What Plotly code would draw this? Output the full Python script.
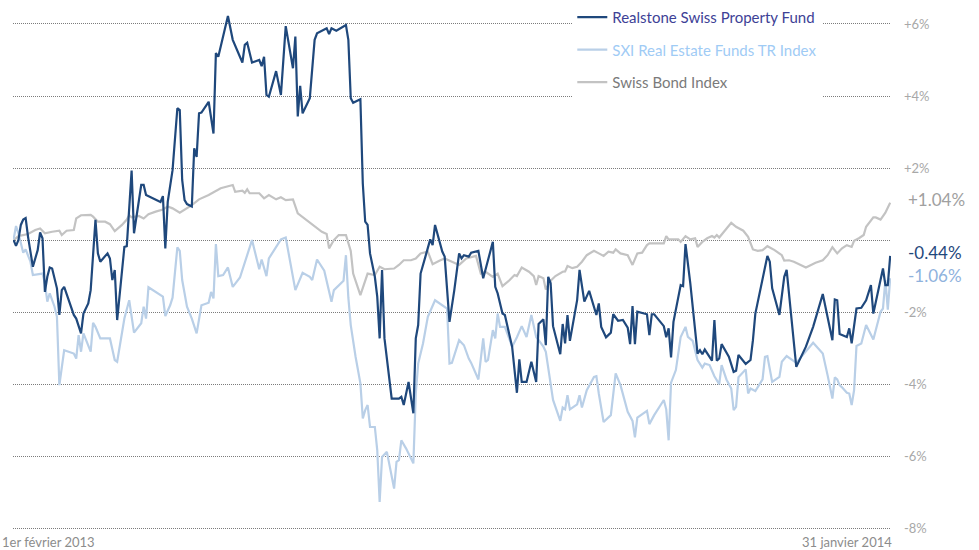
import plotly.graph_objects as go

# ---- data: cumulative performance in % ----
rsp = [("2013-02-01",0.00),("2013-02-02",-0.16),("2013-02-03",0.00),("2013-02-04",0.42),("2013-02-05",0.57),("2013-02-06",0.61),("2013-02-07",0.09),("2013-02-09",-0.74),("2013-02-11",-0.28),("2013-02-12",0.21),("2013-02-13",0.05),("2013-02-14",-1.44),("2013-02-15",-1.02),("2013-02-16",-0.76),("2013-02-17",-0.79),("2013-02-18",-1.11),("2013-02-19",-1.34),("2013-02-20",-2.08),("2013-02-21",-1.39),("2013-02-22",-1.30),("2013-02-24",-1.67),("2013-02-26",-2.08),("2013-02-27",-2.18),("2013-03-01",-2.59),("2013-03-02",-2.04),("2013-03-04",-1.76),("2013-03-05",-1.39),("2013-03-06",-0.28),("2013-03-07",0.56),("2013-03-08",-0.37),("2013-03-09",-0.60),("2013-03-12",-0.37),("2013-03-13",-0.51),("2013-03-14",-1.11),("2013-03-15",-0.83),("2013-03-16",-2.22),("2013-03-17",-1.48),("2013-03-19",-0.19),("2013-03-20",-0.17),("2013-03-22",1.93),("2013-03-23",0.19),("2013-03-25",1.16),("2013-03-26",1.53),("2013-03-27",1.53),("2013-03-28",1.25),("2013-04-03",1.06),("2013-04-04",1.22),("2013-04-05",-0.23),("2013-04-06",1.06),("2013-04-08",1.94),("2013-04-10",3.66),("2013-04-11",3.61),("2013-04-12",1.67),("2013-04-13",1.11),("2013-04-14",1.00),("2013-04-16",0.93),("2013-04-17",2.55),("2013-04-18",2.31),("2013-04-19",3.52),("2013-04-20",3.54),("2013-04-23",3.84),("2013-04-25",2.96),("2013-04-26",5.19),("2013-04-27",5.09),("2013-05-01",6.22),("2013-05-03",5.56),("2013-05-07",4.93),("2013-05-08",5.42),("2013-05-09",5.48),("2013-05-11",4.93),("2013-05-14",5.00),("2013-05-15",4.83),("2013-05-16",5.09),("2013-05-17",4.03),("2013-05-18",3.98),("2013-05-21",4.69),("2013-05-23",4.03),("2013-05-25",5.94),("2013-05-28",4.77),("2013-05-29",5.65),("2013-05-30",3.43),("2013-05-31",4.28),("2013-06-01",3.52),("2013-06-04",3.94),("2013-06-06",5.56),("2013-06-07",5.74),("2013-06-11",5.88),("2013-06-12",5.72),("2013-06-13",5.88),("2013-06-15",5.81),("2013-06-19",5.97),("2013-06-20",5.56),("2013-06-21",3.94),("2013-06-22",3.81),("2013-06-25",3.91),("2013-06-26",1.57),("2013-06-27",0.51),("2013-06-28",0.42),("2013-06-29",-0.37),("2013-07-01",-1.02),("2013-07-02",-1.57),("2013-07-03",-2.73),("2013-07-04",-0.83),("2013-07-05",-2.73),("2013-07-08",-4.40),("2013-07-11",-4.40),("2013-07-12",-4.35),("2013-07-13",-4.58),("2013-07-15",-3.94),("2013-07-17",-4.81),("2013-07-18",-2.73),("2013-07-19",-2.36),("2013-07-20",-0.93),("2013-07-22",-0.46),("2013-07-24",0.02),("2013-07-25",-0.14),("2013-07-26",0.42),("2013-07-29",-0.32),("2013-07-30",-0.46),("2013-08-01",-2.27),("2013-08-03",-1.39),("2013-08-05",-0.37),("2013-08-06",-0.51),("2013-08-07",-0.42),("2013-08-09",-0.46),("2013-08-10",-0.35),("2013-08-13",-0.30),("2013-08-15",-1.06),("2013-08-19",-0.05),("2013-08-20",-1.30),("2013-08-21",-1.48),("2013-08-23",-2.04),("2013-08-24",-2.08),("2013-08-27",-2.96),("2013-08-29",-4.24),("2013-08-30",-3.31),("2013-08-31",-3.94),("2013-09-02",-3.94),("2013-09-04",-3.38),("2013-09-06",-3.94),("2013-09-07",-2.33),("2013-09-09",-2.20),("2013-09-10",-2.92),("2013-09-11",-1.02),("2013-09-12",-1.20),("2013-09-13",-2.39),("2013-09-16",-3.17),("2013-09-17",-2.33),("2013-09-18",-2.87),("2013-09-19",-2.08),("2013-09-20",-2.80),("2013-09-23",-1.67),("2013-09-24",-0.83),("2013-09-26",-1.71),("2013-09-28",-1.41),("2013-10-01",-2.08),("2013-10-02",-1.76),("2013-10-03",-2.41),("2013-10-05",-2.70),("2013-10-07",-2.57),("2013-10-08",-2.06),("2013-10-10",-2.24),("2013-10-12",-2.22),("2013-10-14",-2.43),("2013-10-15",-2.89),("2013-10-16",-1.83),("2013-10-17",-2.89),("2013-10-18",-1.99),("2013-10-22",-2.06),("2013-10-23",-2.64),("2013-10-24",-2.06),("2013-10-25",-2.06),("2013-10-29",-2.39),("2013-10-30",-2.70),("2013-10-31",-2.45),("2013-11-01",-3.26),("2013-11-02",-2.27),("2013-11-05",-1.25),("2013-11-06",-1.28),("2013-11-07",-0.11),("2013-11-09",-1.20),("2013-11-12",-3.15),("2013-11-13",-3.06),("2013-11-14",-3.17),("2013-11-15",-3.04),("2013-11-18",-3.35),("2013-11-19",-2.22),("2013-11-20",-3.35),("2013-11-21",-3.29),("2013-11-22",-2.89),("2013-11-25",-3.24),("2013-11-27",-3.66),("2013-11-28",-3.63),("2013-11-29",-3.19),("2013-12-02",-3.44),("2013-12-04",-3.33),("2013-12-05",-2.78),("2013-12-06",-2.04),("2013-12-09",-1.11),("2013-12-11",-0.44),("2013-12-12",-0.60),("2013-12-13",-1.34),("2013-12-16",-2.08),("2013-12-18",-1.02),("2013-12-19",-0.83),("2013-12-23",-3.52),("2013-12-27",-2.96),("2013-12-30",-2.41),("2014-01-03",-1.50),("2014-01-07",-2.78),("2014-01-08",-1.65),("2014-01-09",-1.67),("2014-01-10",-2.61),("2014-01-13",-2.69),("2014-01-14",-2.45),("2014-01-15",-2.87),("2014-01-17",-1.90),("2014-01-19",-1.88),("2014-01-21",-1.67),("2014-01-23",-1.25),("2014-01-24",-2.04),("2014-01-28",-0.79),("2014-01-29",-1.25),("2014-01-30",-1.25),("2014-01-31",-0.44)]

sxi = [("2013-02-01",0.02),("2013-02-02",0.39),("2013-02-03",0.19),("2013-02-04",-0.05),("2013-02-05",-0.35),("2013-02-06",-0.26),("2013-02-08",-0.60),("2013-02-09",-0.97),("2013-02-13",-0.93),("2013-02-14",-1.20),("2013-02-15",-1.71),("2013-02-16",-1.48),("2013-02-18",-1.85),("2013-02-19",-2.13),("2013-02-20",-4.03),("2013-02-22",-3.06),("2013-02-26",-3.15),("2013-02-27",-3.29),("2013-02-28",-2.64),("2013-03-01",-3.10),("2013-03-02",-2.59),("2013-03-05",-3.10),("2013-03-06",-2.30),("2013-03-07",-2.41),("2013-03-09",-2.73),("2013-03-13",-2.73),("2013-03-15",-3.33),("2013-03-16",-3.38),("2013-03-19",-2.18),("2013-03-21",-1.67),("2013-03-23",-2.57),("2013-03-26",-2.31),("2013-03-27",-1.85),("2013-03-28",-2.18),("2013-03-29",-1.31),("2013-04-04",-1.57),("2013-04-05",-2.11),("2013-04-07",-1.81),("2013-04-08",-1.60),("2013-04-10",-0.20),("2013-04-11",-0.30),("2013-04-12",-1.11),("2013-04-14",-1.85),("2013-04-16",-2.18),("2013-04-18",-2.59),("2013-04-20",-1.81),("2013-04-23",-1.74),("2013-04-24",-1.44),("2013-04-25",-1.62),("2013-04-26",-0.11),("2013-04-27",-1.00),("2013-04-29",-0.97),("2013-05-01",-0.76),("2013-05-03",-1.30),("2013-05-06",-1.04),("2013-05-11",0.00),("2013-05-14",-0.81),("2013-05-15",-0.54),("2013-05-17",-1.00),("2013-05-18",-0.51),("2013-05-21",-0.19),("2013-05-22",-0.09),("2013-05-23",0.02),("2013-05-25",0.07),("2013-05-29",-1.39),("2013-06-01",-0.91),("2013-06-04",-1.02),("2013-06-05",-1.11),("2013-06-07",-0.54),("2013-06-10",-0.85),("2013-06-13",-1.71),("2013-06-14",-1.39),("2013-06-18",-1.13),("2013-06-19",-0.42),("2013-06-20",-1.60),("2013-06-21",-2.36),("2013-06-23",-3.24),("2013-06-25",-3.98),("2013-06-26",-4.95),("2013-06-27",-4.72),("2013-06-28",-4.58),("2013-06-29",-5.19),("2013-07-01",-5.19),("2013-07-02",-5.83),("2013-07-03",-7.27),("2013-07-04",-6.02),("2013-07-06",-5.88),("2013-07-09",-6.90),("2013-07-10",-6.16),("2013-07-11",-6.11),("2013-07-12",-5.56),("2013-07-14",-5.79),("2013-07-17",-6.20),("2013-07-18",-4.26),("2013-07-19",-3.43),("2013-07-21",-2.87),("2013-07-23",-2.13),("2013-07-26",-1.67),("2013-07-31",-1.90),("2013-08-01",-3.43),("2013-08-02",-3.41),("2013-08-05",-2.78),("2013-08-07",-2.92),("2013-08-09",-3.29),("2013-08-10",-3.41),("2013-08-13",-3.87),("2013-08-15",-2.73),("2013-08-16",-3.38),("2013-08-17",-3.33),("2013-08-19",-2.50),("2013-08-20",-2.73),("2013-08-21",-2.04),("2013-08-22",-2.41),("2013-08-24",-2.41),("2013-08-27",-2.96),("2013-08-29",-2.70),("2013-08-31",-2.39),("2013-09-02",-2.69),("2013-09-04",-2.08),("2013-09-06",-2.69),("2013-09-09",-2.96),("2013-09-10",-3.10),("2013-09-13",-4.44),("2013-09-16",-5.02),("2013-09-17",-4.65),("2013-09-18",-4.70),("2013-09-19",-4.31),("2013-09-20",-4.70),("2013-09-23",-4.56),("2013-09-24",-4.31),("2013-09-25",-4.65),("2013-09-27",-4.17),("2013-09-30",-3.80),("2013-10-01",-3.78),("2013-10-02",-4.26),("2013-10-04",-5.05),("2013-10-07",-4.86),("2013-10-09",-3.70),("2013-10-11",-4.03),("2013-10-14",-4.77),("2013-10-16",-5.02),("2013-10-17",-5.48),("2013-10-18",-4.93),("2013-10-22",-4.74),("2013-10-23",-5.11),("2013-10-25",-4.86),("2013-10-29",-4.44),("2013-10-30",-4.70),("2013-10-31",-5.56),("2013-11-01",-3.96),("2013-11-03",-3.61),("2013-11-05",-2.69),("2013-11-07",-2.41),("2013-11-08",-2.69),("2013-11-10",-2.80),("2013-11-12",-3.33),("2013-11-14",-3.54),("2013-11-15",-3.43),("2013-11-17",-3.47),("2013-11-19",-3.78),("2013-11-21",-4.00),("2013-11-22",-3.47),("2013-11-24",-3.87),("2013-11-26",-4.12),("2013-11-27",-4.72),("2013-11-28",-4.63),("2013-11-29",-3.81),("2013-12-02",-3.59),("2013-12-03",-4.26),("2013-12-04",-4.12),("2013-12-06",-4.19),("2013-12-09",-3.87),("2013-12-10",-3.24),("2013-12-11",-3.22),("2013-12-13",-3.94),("2013-12-16",-3.80),("2013-12-17",-3.38),("2013-12-19",-3.22),("2013-12-23",-3.41),("2013-12-30",-2.85),("2014-01-03",-3.15),("2014-01-05",-3.75),("2014-01-07",-4.40),("2014-01-08",-3.81),("2014-01-09",-3.87),("2014-01-10",-4.03),("2014-01-11",-4.09),("2014-01-13",-4.24),("2014-01-14",-4.26),("2014-01-15",-4.58),("2014-01-16",-4.17),("2014-01-17",-2.94),("2014-01-19",-2.87),("2014-01-21",-2.36),("2014-01-22",-2.48),("2014-01-24",-2.76),("2014-01-27",-1.99),("2014-01-28",-1.90),("2014-01-29",-1.11),("2014-01-30",-1.93),("2014-01-31",-1.06)]

sbi = [("2013-02-01",0.00),("2013-02-03",0.11),("2013-02-07",0.17),("2013-02-10",0.28),("2013-02-12",0.32),("2013-02-14",0.19),("2013-02-17",0.23),("2013-02-20",0.26),("2013-02-21",0.14),("2013-02-23",0.26),("2013-02-26",0.28),("2013-02-27",0.60),("2013-03-01",0.69),("2013-03-05",0.70),("2013-03-06",0.65),("2013-03-08",0.51),("2013-03-11",0.51),("2013-03-13",0.44),("2013-03-15",0.25),("2013-03-18",0.42),("2013-03-20",0.57),("2013-03-21",0.69),("2013-03-22",0.63),("2013-03-25",0.67),("2013-03-27",0.60),("2013-03-29",0.72),("2013-04-01",0.79),("2013-04-04",0.85),("2013-04-06",0.93),("2013-04-08",0.88),("2013-04-11",0.76),("2013-04-16",0.97),("2013-04-19",1.13),("2013-04-23",1.25),("2013-04-28",1.44),("2013-05-02",1.50),("2013-05-03",1.53),("2013-05-04",1.34),("2013-05-07",1.37),("2013-05-08",1.31),("2013-05-09",1.41),("2013-05-10",1.30),("2013-05-14",1.30),("2013-05-16",1.16),("2013-05-18",1.25),("2013-05-21",1.13),("2013-05-23",1.19),("2013-05-25",1.11),("2013-05-28",1.13),("2013-05-30",0.74),("2013-05-31",0.69),("2013-06-05",0.42),("2013-06-09",0.23),("2013-06-11",0.17),("2013-06-12",-0.23),("2013-06-14",0.00),("2013-06-16",0.14),("2013-06-19",0.14),("2013-06-21",-0.30),("2013-06-22",-0.93),("2013-06-25",-1.53),("2013-06-28",-0.93),("2013-07-01",-0.97),("2013-07-03",-0.74),("2013-07-05",-0.81),("2013-07-09",-0.79),("2013-07-11",-0.69),("2013-07-13",-0.56),("2013-07-16",-0.56),("2013-07-18",-0.51),("2013-07-20",-0.37),("2013-07-23",-0.32),("2013-07-25",-0.67),("2013-07-28",-0.57),("2013-07-30",-0.51),("2013-08-05",-0.69),("2013-08-08",-0.51),("2013-08-12",-0.44),("2013-08-14",-0.93),("2013-08-16",-0.88),("2013-08-19",-1.02),("2013-08-21",-0.93),("2013-08-23",-1.28),("2013-08-26",-1.11),("2013-08-28",-0.97),("2013-08-29",-1.00),("2013-08-31",-0.76),("2013-09-03",-0.88),("2013-09-05",-1.00),("2013-09-06",-1.25),("2013-09-07",-1.00),("2013-09-09",-1.06),("2013-09-10",-1.37),("2013-09-12",-1.13),("2013-09-14",-1.00),("2013-09-17",-0.88),("2013-09-18",-0.87),("2013-09-19",-0.72),("2013-09-21",-0.78),("2013-09-23",-0.74),("2013-09-25",-0.60),("2013-09-27",-0.42),("2013-09-30",-0.30),("2013-10-02",-0.37),("2013-10-04",-0.44),("2013-10-06",-0.32),("2013-10-08",-0.35),("2013-10-09",-0.26),("2013-10-11",-0.37),("2013-10-14",-0.42),("2013-10-16",-0.69),("2013-10-18",-0.37),("2013-10-20",-0.35),("2013-10-22",-0.14),("2013-10-23",-0.09),("2013-10-29",-0.09),("2013-10-30",0.11),("2013-10-31",0.02),("2013-11-02",0.03),("2013-11-04",0.02),("2013-11-05",-0.05),("2013-11-07",0.11),("2013-11-09",0.02),("2013-11-11",0.05),("2013-11-12",-0.19),("2013-11-14",-0.05),("2013-11-16",0.05),("2013-11-18",0.11),("2013-11-19",0.07),("2013-11-20",0.14),("2013-11-21",0.07),("2013-11-24",0.32),("2013-11-26",0.48),("2013-11-28",0.37),("2013-12-01",0.26),("2013-12-03",0.09),("2013-12-05",-0.26),("2013-12-07",-0.30),("2013-12-09",-0.28),("2013-12-11",-0.17),("2013-12-14",-0.28),("2013-12-17",-0.42),("2013-12-18",-0.57),("2013-12-20",-0.56),("2013-12-22",-0.60),("2013-12-27",-0.76),("2013-12-29",-0.69),("2013-12-31",-0.63),("2014-01-03",-0.56),("2014-01-05",-0.42),("2014-01-07",-0.20),("2014-01-09",-0.37),("2014-01-11",-0.23),("2014-01-13",-0.14),("2014-01-15",-0.19),("2014-01-16",-0.02),("2014-01-18",0.05),("2014-01-20",0.14),("2014-01-21",0.37),("2014-01-24",0.63),("2014-01-25",0.63),("2014-01-27",0.57),("2014-01-29",0.76),("2014-01-31",1.04)]

rsp_dates, rsp_values = [d for d, v in rsp], [v for d, v in rsp]
sxi_dates, sxi_values = [d for d, v in sxi], [v for d, v in sxi]
sbi_dates, sbi_values = [d for d, v in sbi], [v for d, v in sbi]

series_names = ["Realstone Swiss Property Fund", "SXI Real Estate Funds TR Index", "Swiss Bond Index"]
line_colors = ["#1f487c", "#b9cfe7", "#c3c3c3"]
label_colors = ["#3d4196", "#9fcbf5", "#7a7a7a"]
end_colors = ["#1f487c", "#8fb2dd", "#a0a0a0"]

tick_vals = [-8, -6, -4, -2, 0, 2, 4, 6]
tick_text = ["-8%", "-6%", "-4%", "-2%", "", "+2%", "+4%", "+6%"]
start_label = "1er février 2013"
end_label = "31 janvier 2014"

FONT = "Lato, 'Open Sans', sans-serif"

fig = go.Figure()
data_sets = [(rsp_dates, rsp_values), (sxi_dates, sxi_values), (sbi_dates, sbi_values)]
draw_order = [2, 1, 0]
for i in draw_order:
    dts, vals = data_sets[i]
    fig.add_trace(go.Scatter(
        x=dts, y=vals, mode="lines",
        name=f"<span style='color:{label_colors[i]}'>{series_names[i]}</span>",
        line=dict(color=line_colors[i], width=2.2),
        legendgroup=f"g{i}", legendrank=i + 1,
        hoverinfo="skip",
    ))

for i, (dts, vals) in enumerate(data_sets):
    v = vals[-1]
    fig.add_annotation(
        x=1, xref="paper", xanchor="left", xshift=15,
        y=v, yref="y", yanchor="middle", yshift=3,
        text=f"{v:+.2f}%", showarrow=False,
        font=dict(family=FONT, size=17, color=end_colors[i]),
    )

fig.add_annotation(x=0, xref="paper", xanchor="left", xshift=-13,
                   y=0, yref="paper", yanchor="top", yshift=-2,
                   text=start_label, showarrow=False,
                   font=dict(family=FONT, size=13, color="#8c8c8c"))
fig.add_annotation(x=1, xref="paper", xanchor="right", xshift=3,
                   y=0, yref="paper", yanchor="top", yshift=-2,
                   text=end_label, showarrow=False,
                   font=dict(family=FONT, size=13, color="#8c8c8c"))

fig.update_layout(
    width=979, height=550,
    margin=dict(l=13, r=88, t=2, b=20, autoexpand=False),
    paper_bgcolor="white", plot_bgcolor="white",
    font=dict(family=FONT),
    showlegend=True,
    legend=dict(
        x=0.637, xanchor="left", y=1.002, yanchor="top",
        bgcolor="white", borderwidth=0,
        font=dict(family=FONT, size=15, color="#555555"),
        traceorder="grouped", tracegroupgap=10, itemwidth=30,
    ),
    xaxis=dict(
        type="date", range=["2013-01-31 18:00", "2014-01-31 08:00"],
        showgrid=False, showticklabels=False, zeroline=False, showline=False, ticks="",
        automargin=False,
    ),
    yaxis=dict(
        range=[-8.05, 6.61], side="right",
        tickvals=tick_vals, ticktext=tick_text,
        showgrid=True, gridcolor="#7c7c7c", griddash="1px,1px", gridwidth=1,
        zeroline=False, showline=False, ticks="",
        tickfont=dict(family=FONT, size=13, color="#a8a8a8"),
        ticklabelstandoff=12, automargin=False,
    ),
)

fig.write_html(
    "out.html",
    config={"displayModeBar": False, "staticPlot": True},
    post_script="document.body.style.margin='0';document.body.style.overflow='hidden';",
)
